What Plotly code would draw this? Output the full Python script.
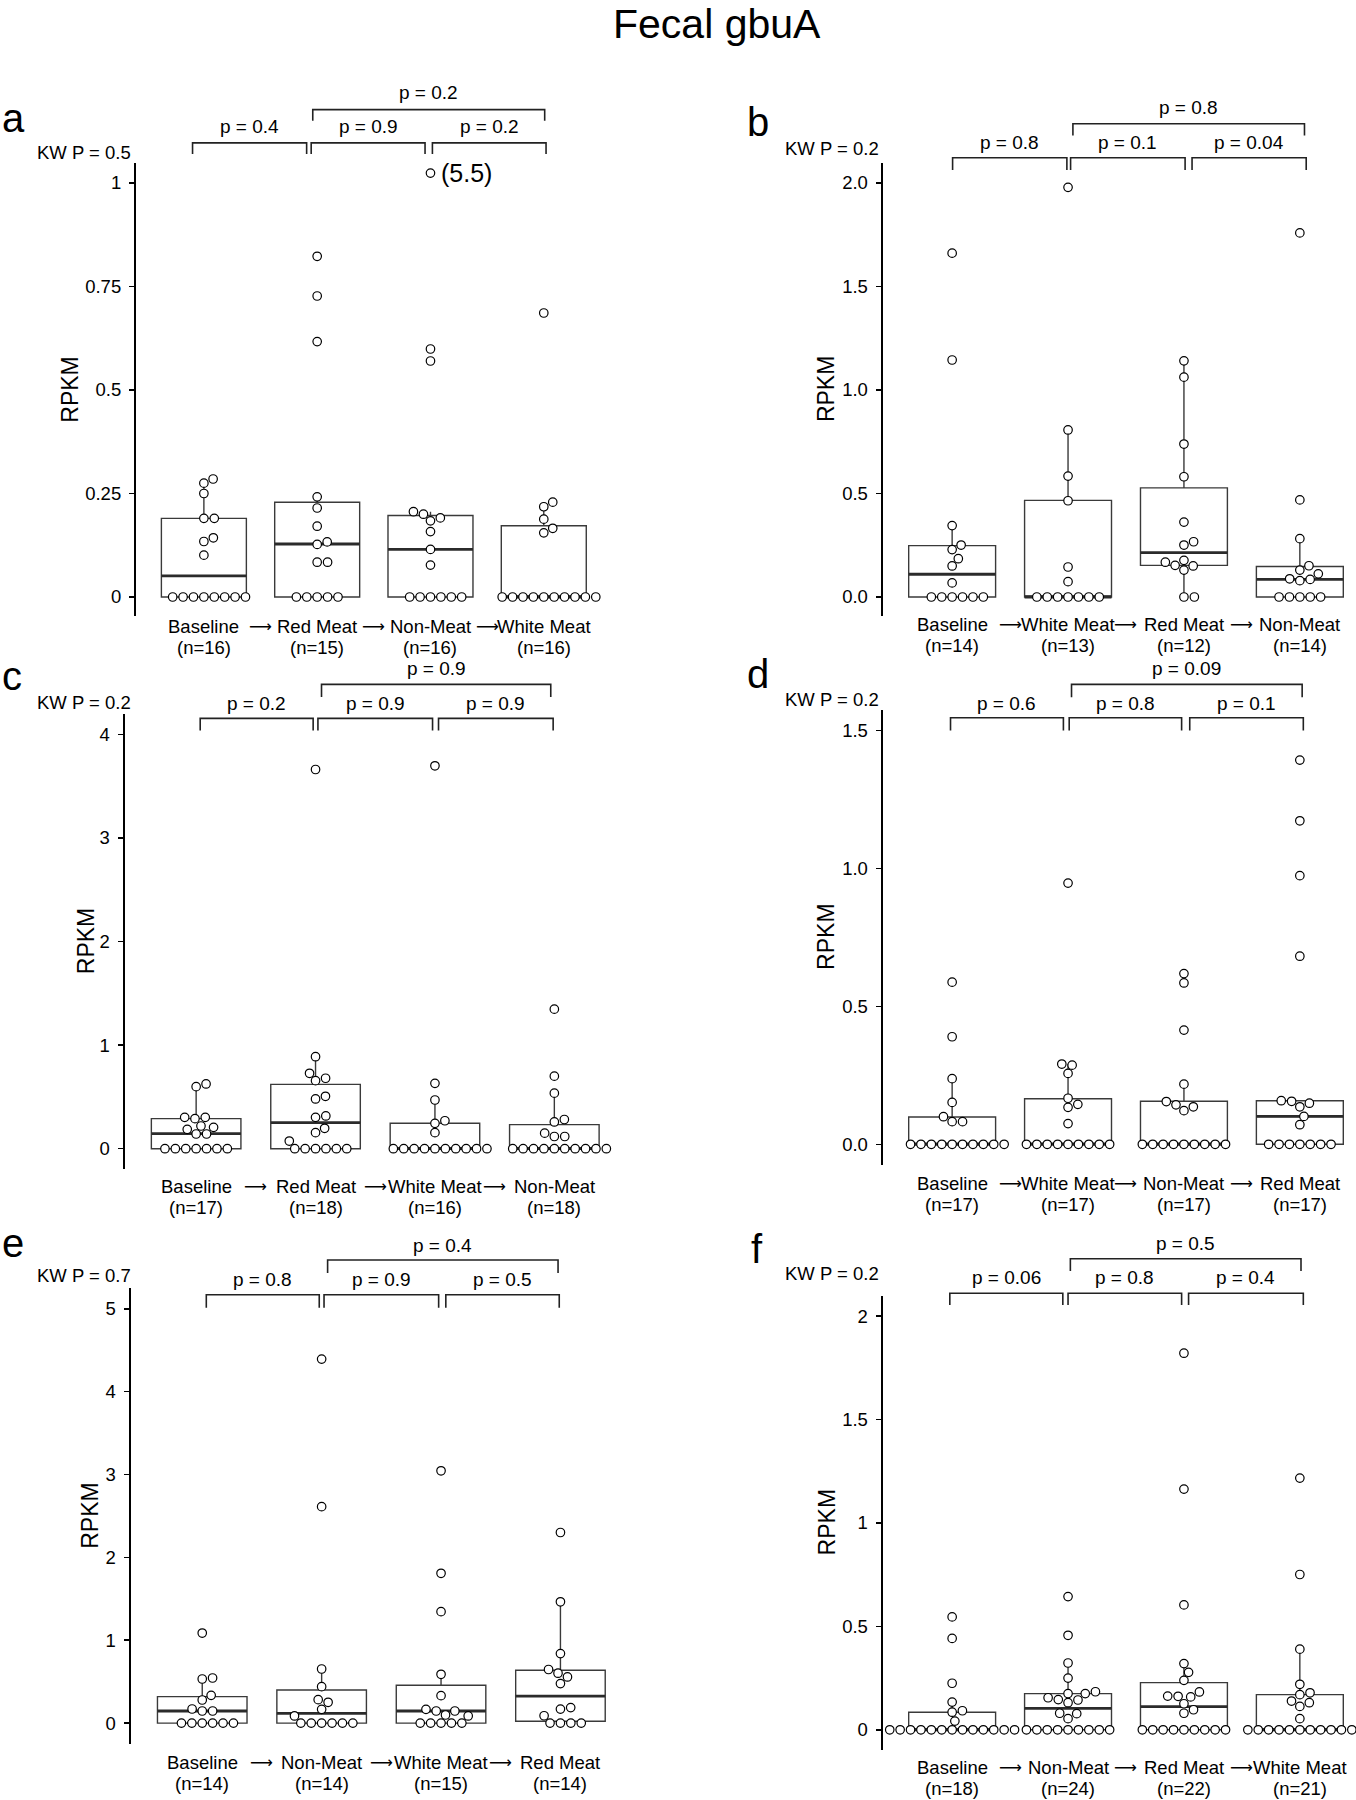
import math
import plotly.graph_objects as go

W, H = 1356, 1800
FONT = "Liberation Sans, Arial, Helvetica, sans-serif"
ARROW_FONT = "DejaVu Sans, Liberation Sans, sans-serif"

# ---------------- data ----------------
# Panel a
a_groups = ["Baseline", "Red Meat", "Non-Meat", "White Meat"]
a_n = ["(n=16)", "(n=15)", "(n=16)", "(n=16)"]
a_baseline = [0, 0, 0, 0, 0, 0, 0, 0, 0.101, 0.134, 0.143, 0.190, 0.190, 0.250, 0.275, 0.285]
a_red = [0, 0, 0, 0, 0, 0.084, 0.084, 0.127, 0.133, 0.171, 0.215, 0.242, 0.617, 0.727, 0.823]
a_non = [0, 0, 0, 0, 0, 0, 0.077, 0.115, 0.158, 0.184, 0.191, 0.200, 0.206, 0.570, 0.599, 5.5]
a_white = [0, 0, 0, 0, 0, 0, 0, 0, 0, 0, 0.155, 0.166, 0.188, 0.218, 0.229, 0.686]
a_q1 = [0, 0, 0, 0]
a_median = [0.051, 0.128, 0.115, 0]
a_q3 = [0.190, 0.229, 0.197, 0.172]
a_whisker_lo = [0, 0, 0, 0]
a_whisker_hi = [0.285, 0.242, 0.206, 0.229]
a_yticks = [0, 0.25, 0.5, 0.75, 1]
a_yticklabels = ["0", "0.25", "0.5", "0.75", "1"]
a_pairs = ["p = 0.4", "p = 0.9", "p = 0.2"]
a_outer = "p = 0.2"
a_kw = "KW P = 0.5"

# Panel b
b_groups = ["Baseline", "White Meat", "Red Meat", "Non-Meat"]
b_n = ["(n=14)", "(n=13)", "(n=12)", "(n=14)"]
b_baseline = [0, 0, 0, 0, 0, 0, 0.068, 0.150, 0.185, 0.229, 0.251, 0.345, 1.145, 1.661]
b_white = [0, 0, 0, 0, 0, 0, 0, 0.074, 0.145, 0.465, 0.584, 0.807, 1.979]
b_red = [0, 0, 0.130, 0.150, 0.153, 0.168, 0.177, 0.251, 0.267, 0.362, 0.581, 0.739, 1.062, 1.141]
b_non = [0, 0, 0, 0, 0, 0.079, 0.085, 0.088, 0.112, 0.130, 0.151, 0.282, 0.469, 1.759]
b_q1 = [0, 0, 0.153, 0]
b_median = [0.110, 0, 0.214, 0.085]
b_q3 = [0.248, 0.467, 0.527, 0.147]
b_whisker_lo = [0, 0, 0, 0]
b_whisker_hi = [0.345, 0.807, 1.141, 0.282]
b_yticks = [0, 0.5, 1.0, 1.5, 2.0]
b_yticklabels = ["0.0", "0.5", "1.0", "1.5", "2.0"]
b_pairs = ["p = 0.8", "p = 0.1", "p = 0.04"]
b_outer = "p = 0.8"
b_kw = "KW P = 0.2"

# Panel c
c_groups = ["Baseline", "Red Meat", "White Meat", "Non-Meat"]
c_n = ["(n=17)", "(n=18)", "(n=16)", "(n=18)"]
c_baseline = [0, 0, 0, 0, 0, 0, 0, 0.142, 0.142, 0.187, 0.206, 0.219, 0.290, 0.303, 0.303, 0.599, 0.625]
c_red = [0, 0, 0, 0, 0, 0, 0.074, 0.155, 0.197, 0.303, 0.316, 0.480, 0.506, 0.657, 0.680, 0.728, 0.888, 3.660]
c_white = [0, 0, 0, 0, 0, 0, 0, 0, 0, 0, 0.155, 0.245, 0.270, 0.470, 0.631, 3.696]
c_non = [0, 0, 0, 0, 0, 0, 0, 0, 0, 0, 0.118, 0.118, 0.150, 0.258, 0.282, 0.536, 0.700, 1.347]
c_q1 = [0, 0, 0, 0]
c_median = [0.145, 0.251, 0, 0]
c_q3 = [0.290, 0.621, 0.245, 0.232]
c_whisker_lo = [0, 0, 0, 0]
c_whisker_hi = [0.625, 0.888, 0.470, 0.536]
c_yticks = [0, 1, 2, 3, 4]
c_yticklabels = ["0", "1", "2", "3", "4"]
c_pairs = ["p = 0.2", "p = 0.9", "p = 0.9"]
c_outer = "p = 0.9"
c_kw = "KW P = 0.2"

# Panel d
d_groups = ["Baseline", "White Meat", "Non-Meat", "Red Meat"]
d_n = ["(n=17)", "(n=17)", "(n=17)", "(n=17)"]
d_baseline = [0, 0, 0, 0, 0, 0, 0, 0, 0, 0, 0.082, 0.082, 0.100, 0.152, 0.238, 0.390, 0.588]
d_white = [0, 0, 0, 0, 0, 0, 0, 0, 0, 0.075, 0.134, 0.145, 0.167, 0.257, 0.287, 0.291, 0.947]
d_non = [0, 0, 0, 0, 0, 0, 0, 0, 0, 0.122, 0.136, 0.143, 0.155, 0.218, 0.414, 0.585, 0.619]
d_red = [0, 0, 0, 0, 0, 0, 0, 0.071, 0.101, 0.136, 0.149, 0.156, 0.158, 0.682, 0.974, 1.173, 1.393]
d_q1 = [0, 0, 0, 0]
d_median = [0, 0, 0, 0.101]
d_q3 = [0.099, 0.165, 0.156, 0.158]
d_whisker_lo = [0, 0, 0, 0]
d_whisker_hi = [0.238, 0.291, 0.218, 0.158]
d_yticks = [0, 0.5, 1.0, 1.5]
d_yticklabels = ["0.0", "0.5", "1.0", "1.5"]
d_pairs = ["p = 0.6", "p = 0.8", "p = 0.1"]
d_outer = "p = 0.09"
d_kw = "KW P = 0.2"

# Panel e
e_groups = ["Baseline", "Non-Meat", "White Meat", "Red Meat"]
e_n = ["(n=14)", "(n=14)", "(n=15)", "(n=14)"]
e_baseline = [0, 0, 0, 0, 0, 0, 0.146, 0.146, 0.170, 0.279, 0.335, 0.532, 0.544, 1.087]
e_non = [0, 0, 0, 0, 0, 0, 0.086, 0.166, 0.251, 0.283, 0.440, 0.653, 2.612, 4.393]
e_white = [0, 0, 0, 0, 0, 0.086, 0.098, 0.146, 0.146, 0.166, 0.331, 0.589, 1.345, 1.808, 3.045]
e_red = [0, 0, 0, 0, 0.089, 0.169, 0.187, 0.477, 0.557, 0.602, 0.647, 0.839, 1.464, 2.300]
e_q1 = [0, 0, 0, 0.022]
e_median = [0.146, 0.118, 0.146, 0.326]
e_q3 = [0.319, 0.400, 0.456, 0.638]
e_whisker_lo = [0, 0, 0, 0]
e_whisker_hi = [0.544, 0.653, 0.589, 1.464]
e_yticks = [0, 1, 2, 3, 4, 5]
e_yticklabels = ["0", "1", "2", "3", "4", "5"]
e_pairs = ["p = 0.8", "p = 0.9", "p = 0.5"]
e_outer = "p = 0.4"
e_kw = "KW P = 0.7"

# Panel f
f_groups = ["Baseline", "Non-Meat", "Red Meat", "White Meat"]
f_n = ["(n=18)", "(n=24)", "(n=22)", "(n=21)"]
f_baseline = [0, 0, 0, 0, 0, 0, 0, 0, 0, 0, 0, 0, 0, 0.042, 0.085, 0.092, 0.134, 0.225, 0.442, 0.546]
f_non = [0, 0, 0, 0, 0, 0, 0, 0, 0, 0.054, 0.078, 0.080, 0.131, 0.144, 0.146, 0.155, 0.175, 0.175,
         0.184, 0.250, 0.323, 0.457, 0.644]
f_red = [0, 0, 0, 0, 0, 0, 0, 0, 0, 0.080, 0.097, 0.126, 0.159, 0.162, 0.163, 0.183, 0.239, 0.278,
         0.320, 0.604, 1.164, 1.821]
f_white = [0, 0, 0, 0, 0, 0, 0, 0, 0, 0, 0, 0.054, 0.113, 0.131, 0.139, 0.170, 0.179, 0.220, 0.390,
           0.751, 1.217]
f_q1 = [0, 0, 0, 0]
f_median = [0, 0.104, 0.112, 0]
f_q3 = [0.085, 0.175, 0.228, 0.170]
f_whisker_lo = [0, 0, 0, 0]
f_whisker_hi = [0.134, 0.323, 0.320, 0.390]
f_yticks = [0, 0.5, 1, 1.5, 2]
f_yticklabels = ["0", "0.5", "1", "1.5", "2"]
f_pairs = ["p = 0.06", "p = 0.8", "p = 0.4"]
f_outer = "p = 0.5"
f_kw = "KW P = 0.2"

TITLE = "Fecal gbuA"
Y_TITLE = "RPKM"

panels = [
    dict(letter="a", groups=a_groups, n=a_n, values=[a_baseline, a_red, a_non, a_white],
         q1=a_q1, med=a_median, q3=a_q3, wlo=a_whisker_lo, whi=a_whisker_hi,
         yticks=a_yticks, yticklabels=a_yticklabels, pairs=a_pairs, outer=a_outer, kw=a_kw),
    dict(letter="b", groups=b_groups, n=b_n, values=[b_baseline, b_white, b_red, b_non],
         q1=b_q1, med=b_median, q3=b_q3, wlo=b_whisker_lo, whi=b_whisker_hi,
         yticks=b_yticks, yticklabels=b_yticklabels, pairs=b_pairs, outer=b_outer, kw=b_kw),
    dict(letter="c", groups=c_groups, n=c_n, values=[c_baseline, c_red, c_white, c_non],
         q1=c_q1, med=c_median, q3=c_q3, wlo=c_whisker_lo, whi=c_whisker_hi,
         yticks=c_yticks, yticklabels=c_yticklabels, pairs=c_pairs, outer=c_outer, kw=c_kw),
    dict(letter="d", groups=d_groups, n=d_n, values=[d_baseline, d_white, d_non, d_red],
         q1=d_q1, med=d_median, q3=d_q3, wlo=d_whisker_lo, whi=d_whisker_hi,
         yticks=d_yticks, yticklabels=d_yticklabels, pairs=d_pairs, outer=d_outer, kw=d_kw),
    dict(letter="e", groups=e_groups, n=e_n, values=[e_baseline, e_non, e_white, e_red],
         q1=e_q1, med=e_median, q3=e_q3, wlo=e_whisker_lo, whi=e_whisker_hi,
         yticks=e_yticks, yticklabels=e_yticklabels, pairs=e_pairs, outer=e_outer, kw=e_kw),
    dict(letter="f", groups=f_groups, n=f_n, values=[f_baseline, f_non, f_red, f_white],
         q1=f_q1, med=f_median, q3=f_q3, wlo=f_whisker_lo, whi=f_whisker_hi,
         yticks=f_yticks, yticklabels=f_yticklabels, pairs=f_pairs, outer=f_outer, kw=f_kw),
]

# ---------------- layout geometry (pixels) ----------------
geom = [
    dict(ax=135.9, sp=113.3, top=163, bot=616, zero=597, unit=414,
         br=[(-0.10, 0.907), (0.947, 1.952), (2.017, 3.02)], brtop=(0.961, 3.008),
         yl=142.9, ylb=154, yt=109.6, ytb=120.7, tl=126.2, tt=93,
         kw=(132.7, 152.1), ylab=70.2, lab=626.8, let=(0, 131.8), cap=1.024),
    dict(ax=882.6, sp=115.9, top=163, bot=616, zero=597, unit=207,
         br=[(0.004, 0.99), (1.022, 2.01), (2.07, 3.055)], brtop=(1.042, 3.04),
         yl=157.7, ylb=170, yt=123.7, ytb=135.5, tl=142, tt=107.7,
         kw=(880.5, 148.4), ylab=826.6, lab=624.6, let=(744.7, 135.5), cap=None),
    dict(ax=124.5, sp=119.4, top=714, bot=1169, zero=1148.7, unit=103.6,
         br=[(0.034, 0.98), (1.02, 1.98), (2.03, 2.99)], brtop=(1.05, 2.97),
         yl=718.4, ylb=730.6, yt=684.4, ytb=697, tl=703.6, tt=668.9,
         kw=(132.7, 702.2), ylab=85.7, lab=1186.8, let=(0, 690), cap=None),
    dict(ax=882.6, sp=115.9, top=710, bot=1164.6, zero=1144.3, unit=275.8,
         br=[(-0.014, 0.96), (1.01, 1.98), (2.05, 3.03)], brtop=(1.03, 3.02),
         yl=717.7, ylb=730.6, yt=684.4, ytb=697.3, tl=703.6, tt=668.9,
         kw=(880.5, 699.2), ylab=826.6, lab=1183, let=(744.7, 688), cap=None),
    dict(ax=130.6, sp=119.4, top=1288.4, bot=1743.5, zero=1723.1, unit=82.86,
         br=[(0.034, 0.98), (1.02, 1.98), (2.04, 2.99)], brtop=(1.05, 2.98),
         yl=1294.7, ylb=1307.7, yt=1260, ytb=1272.9, tl=1279.2, tt=1245.2,
         kw=(132.7, 1275.5), ylab=89.8, lab=1762, let=(0, 1257), cap=None),
    dict(ax=882.6, sp=115.9, top=1295.8, bot=1749.8, zero=1729.8, unit=206.8,
         br=[(-0.02, 0.955), (1.0, 1.98), (2.04, 3.03)], brtop=(1.02, 3.01),
         yl=1293.3, ylb=1305, yt=1258.8, ytb=1271, tl=1277.3, tt=1243,
         kw=(880.5, 1273.6), ylab=826.6, lab=1767, let=(749, 1262.5), cap=None),
]

BOX_W = 0.75
DOT_RX, DOT_RY = 10.4, 9.0
LINE_SPACING = 21
TXT = 19
LAB_TXT = 18.5


def px(x):
    return x / W


def py(y):
    return 1 - y / H


def swarm(vals, unit_px):
    """Beeswarm offsets (pixels) for values, ascending order, closest-to-centre placement."""
    order = sorted(range(len(vals)), key=lambda i: (vals[i], i))
    placed = []
    out = [0.0] * len(vals)
    for i in order:
        y = vals[i] * unit_px
        cands = [0.0]
        for (cx, cy) in placed:
            dy = abs(y - cy)
            if dy < DOT_RY:
                dx = DOT_RX * math.sqrt(1 - (dy / DOT_RY) ** 2)
                cands += [cx + dx, cx - dx]
        cands.sort(key=lambda c: (round(abs(c), 6), -c))
        for c in cands:
            if all(((c - cx) / DOT_RX) ** 2 + ((y - cy) / DOT_RY) ** 2 >= 1 - 1e-6 for cx, cy in placed):
                out[i] = c
                placed.append((c, y))
                break
    return out


def label_ann(c, g, xa, ypx, text):
    """Category label annotation, kept inside the page at the right edge."""
    cx = g["ax"] + (c + 0.6) * g["sp"]
    est_w = 0.54 * LAB_TXT * len(text)
    if cx + est_w / 2 > W - 2:
        return dict(x=px(W - 2), y=py(ypx), xref="paper", yref="paper", text=text,
                    showarrow=False, xanchor="right", yanchor="middle",
                    font=dict(family=FONT, size=LAB_TXT, color="black"))
    return dict(x=c, y=py(ypx), xref=xa, yref="paper", text=text,
                showarrow=False, xanchor="center", yanchor="middle",
                font=dict(family=FONT, size=LAB_TXT, color="black"))


fig = go.Figure()
annotations = []
shapes = []
layout_axes = {}

for k, (p, g) in enumerate(zip(panels, geom), start=1):
    sfx = "" if k == 1 else str(k)
    xa, ya = "x" + sfx, "y" + sfx
    right = min(g["ax"] + 4.2 * g["sp"], W)
    xr = [-0.6, -0.6 + (right - g["ax"]) / g["sp"]]
    yr = [(g["zero"] - g["bot"]) / g["unit"], (g["zero"] - g["top"]) / g["unit"]]

    layout_axes["xaxis" + sfx] = dict(domain=[px(g["ax"]), px(right)], range=xr, anchor=ya,
                                      showticklabels=False, showline=False, showgrid=False,
                                      zeroline=False, ticks="", fixedrange=True)
    layout_axes["yaxis" + sfx] = dict(domain=[py(g["bot"]), py(g["top"])], range=yr, anchor=xa,
                                      showline=True, linecolor="black", linewidth=2,
                                      ticks="outside", ticklen=5, tickwidth=1.5, tickcolor="black",
                                      tickvals=p["yticks"], ticktext=p["yticklabels"],
                                      tickfont=dict(family=FONT, size=18.5, color="black"),
                                      ticklabelstandoff=4,
                                      showgrid=False, zeroline=False, fixedrange=True)

    cats = list(range(len(p["groups"])))
    # boxes
    fig.add_trace(go.Box(x=cats, q1=p["q1"], median=p["med"], q3=p["q3"],
                         lowerfence=p["wlo"], upperfence=p["whi"], width=BOX_W,
                         orientation="v", fillcolor="white", whiskerwidth=0,
                         line=dict(color="#3a3a3a", width=1.4), boxpoints=False,
                         hoverinfo="skip", showlegend=False, xaxis=xa, yaxis=ya))
    # thicker median bars
    mx, my = [], []
    for c, m in zip(cats, p["med"]):
        mx += [c - BOX_W / 2, c + BOX_W / 2, None]
        my += [m, m, None]
    fig.add_trace(go.Scatter(x=mx, y=my, mode="lines", line=dict(color="#2b2b2b", width=2.8),
                             hoverinfo="skip", showlegend=False, xaxis=xa, yaxis=ya))
    # points
    for c, vals in zip(cats, p["values"]):
        disp = [min(v, g["cap"]) if g["cap"] is not None else v for v in vals]
        offs = swarm(disp, g["unit"])
        xs = [c + o / g["sp"] for o in offs]
        fig.add_trace(go.Scatter(x=xs, y=disp, mode="markers", cliponaxis=False,
                                 marker=dict(size=8.5, color="white",
                                             line=dict(color="black", width=1.2)),
                                 hoverinfo="skip", showlegend=False, xaxis=xa, yaxis=ya))
        if g["cap"] is not None:
            for v, dv, xx in zip(vals, disp, xs):
                if v > dv:
                    annotations.append(dict(x=xx + 9 / g["sp"], y=dv, xref=xa, yref=ya,
                                            text="(%g)" % v, showarrow=False, xanchor="left",
                                            yanchor="middle",
                                            font=dict(family=FONT, size=25, color="black")))

    # category labels and arrows
    for c, name, nn in zip(cats, p["groups"], p["n"]):
        annotations.append(label_ann(c, g, xa, g["lab"], name))
        annotations.append(label_ann(c, g, xa, g["lab"] + LINE_SPACING, nn))
    for c in cats[:-1]:
        annotations.append(dict(x=c + 0.5, y=py(g["lab"]), xref=xa, yref="paper", text="⟶",
                                showarrow=False, xanchor="center", yanchor="middle",
                                font=dict(family=ARROW_FONT, size=16, color="black")))

    # comparison brackets
    for (x0, x1), lab in zip(g["br"], p["pairs"]):
        shapes.append(dict(type="path", xref=xa, yref="paper",
                           path="M %f,%f L %f,%f L %f,%f L %f,%f" % (
                               x0, py(g["ylb"]), x0, py(g["yl"]), x1, py(g["yl"]), x1, py(g["ylb"])),
                           line=dict(color="#222222", width=1.6)))
        annotations.append(dict(x=(x0 + x1) / 2, y=py(g["tl"]), xref=xa, yref="paper", text=lab,
                                showarrow=False, xanchor="center", yanchor="middle",
                                font=dict(family=FONT, size=TXT, color="black")))
    x0, x1 = g["brtop"]
    shapes.append(dict(type="path", xref=xa, yref="paper",
                       path="M %f,%f L %f,%f L %f,%f L %f,%f" % (
                           x0, py(g["ytb"]), x0, py(g["yt"]), x1, py(g["yt"]), x1, py(g["ytb"])),
                       line=dict(color="#222222", width=1.6)))
    annotations.append(dict(x=(x0 + x1) / 2, y=py(g["tt"]), xref=xa, yref="paper", text=p["outer"],
                            showarrow=False, xanchor="center", yanchor="middle",
                            font=dict(family=FONT, size=TXT, color="black")))

    # Kruskal-Wallis text
    annotations.append(dict(x=px(g["kw"][0]), y=py(g["kw"][1]), xref="paper", yref="paper",
                            text=p["kw"], showarrow=False, xanchor="right", yanchor="middle",
                            font=dict(family=FONT, size=18.5, color="black")))
    # y title
    annotations.append(dict(x=px(g["ylab"]), y=py((g["top"] + g["bot"]) / 2), xref="paper",
                            yref="paper", text=Y_TITLE, textangle=-90, showarrow=False,
                            xanchor="center", yanchor="middle",
                            font=dict(family=FONT, size=23, color="black")))
    # panel letter
    annotations.append(dict(x=px(g["let"][0]), y=py(g["let"][1] - 14), xref="paper", yref="paper",
                            text=p["letter"], showarrow=False, xanchor="left", yanchor="middle",
                            font=dict(family=FONT, size=40, color="black")))

annotations.append(dict(x=px(717), y=py(24), xref="paper", yref="paper", text=TITLE,
                        showarrow=False, xanchor="center", yanchor="middle",
                        font=dict(family=FONT, size=41, color="black")))

fig.update_layout(width=W, height=H, margin=dict(l=0, r=0, t=0, b=0),
                  paper_bgcolor="white", plot_bgcolor="white", showlegend=False,
                  annotations=annotations, shapes=shapes, **layout_axes)

fig.write_html("out.html", config={"displayModeBar": False, "staticPlot": True},
               post_script="document.body.style.margin='0';document.body.style.overflow='hidden';")
